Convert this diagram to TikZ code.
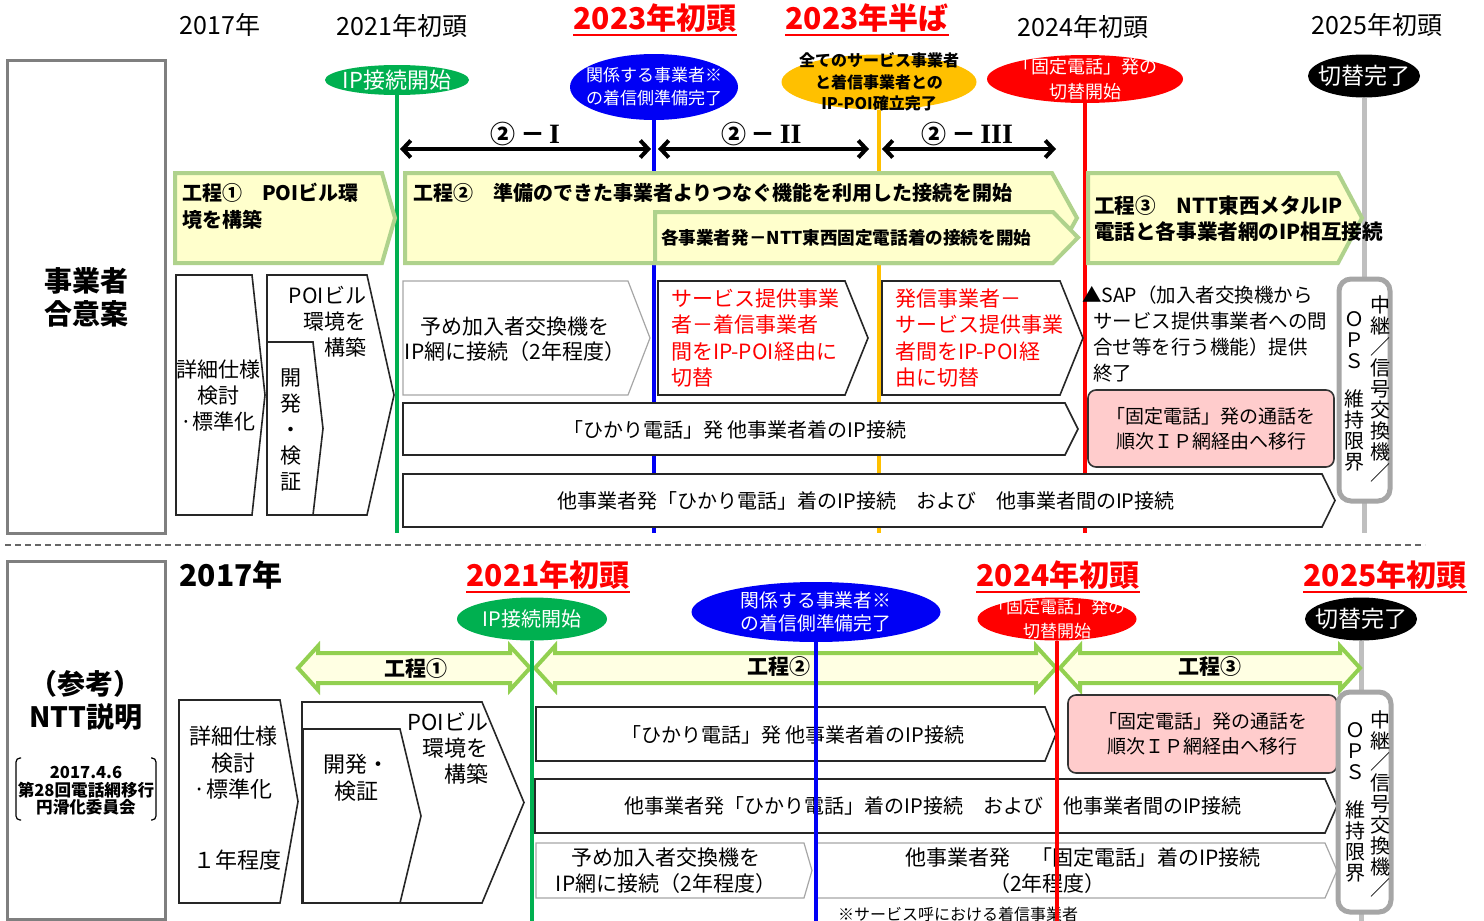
\documentclass[tikz,border=0pt]{standalone}
\usepackage{fontspec}
\setmainfont{Noto Sans CJK JP}
\newfontfamily\romanfont{Liberation Serif}
\usetikzlibrary{positioning}
\usetikzlibrary{arrows.meta}
\usetikzlibrary{shapes.geometric}

\definecolor{msgreen}{HTML}{00B050}
\definecolor{msblue}{HTML}{0000F5}
\definecolor{msgold}{HTML}{FFC000}
\definecolor{msred}{HTML}{FF0000}
\definecolor{msgray}{HTML}{BFBFBF}
\definecolor{stagefill}{HTML}{FFFFCC}
\definecolor{stageline}{HTML}{AFD28C}
\definecolor{arrowline}{HTML}{92D050}
\definecolor{arrowfill}{HTML}{FFFFE3}
\definecolor{pinkfill}{HTML}{FFCCCC}
\definecolor{framegray}{HTML}{7F7F7F}
\definecolor{opsgray}{HTML}{A6A6A6}

\newcommand{\fs}[2]{\fontsize{#1}{#2}\selectfont}
\newcommand{\chevron}[6][lane]{\draw[#1] (#2,#3) -- (#4,#3) -- (#5,{(#3+#6)/2}) -- (#4,#6) -- (#2,#6) -- cycle;}
\newcommand{\dblarrow}[3]{\draw[bigarrow] (#1,#3) -- ({#1+20},{#3-22}) -- ({#1+20},{#3-15}) -- ({#2-20},{#3-15}) -- ({#2-20},{#3-22}) -- (#2,#3) -- ({#2-20},{#3+22}) -- ({#2-20},{#3+15}) -- ({#1+20},{#3+15}) -- ({#1+20},{#3+22}) -- cycle;}
\newcommand{\rnum}[1]{{\romanfont\bfseries\fontsize{14}{14}\selectfont #1}}

\tikzset{
    x=0.5pt, y=-0.5pt,
    every node/.append style={inner sep=0pt, outer sep=0pt},
    year/.style={font=\fs{12.5}{15}},
    yearred/.style={font=\fs{15}{18}\bfseries, text=msred},
    yearbold/.style={font=\fs{15}{18}\bfseries},
    redline/.style={msred, line width=1pt},
    milestone/.style={ellipse, fill=#1, draw=none},
    mstext/.style={text=white, align=center},
    timeline/.style={line width=2pt, draw=#1},
    span/.style={{Straight Barb[length=4pt,width=8.5pt]}-{Straight Barb[length=4pt,width=8.5pt]}, line width=2pt},
    spanlabel/.style={font=\fs{12.5}{14}\bfseries},
    stage/.style={fill=stagefill, draw=stageline, line width=2pt},
    stagetext/.style={font=\fs{10}{13.5}\bfseries, align=left, anchor=west},
    phase/.style={font=\fs{10.5}{12}\bfseries},
    lane/.style={fill=white, draw=black!85, line width=0.8pt},
    lightlane/.style={fill=white, draw=opsgray, line width=0.6pt},
    lanetext/.style={font=\fs{10.5}{13}, align=center},
    redtext/.style={font=\fs{10.5}{13.2}, align=left, anchor=west, text=msred},
    pinkbox/.style={fill=pinkfill, draw=black!80, line width=0.8pt, rounded corners=4pt, font=\fs{9.5}{12.5}, align=center},
    opsbox/.style={fill=white, draw=opsgray, line width=2.5pt, rounded corners=6pt},
    vtext/.style={font=\fs{10}{10.5}, align=center},
    frame/.style={draw=framegray, line width=1.5pt},
    bigarrow/.style={fill=arrowfill, draw=arrowline, line width=2pt},
    sep/.style={draw=black!60, line width=0.6pt, dash pattern=on 3pt off 2pt},
    bracket/.style={draw=black, line width=0.6pt, rounded corners=2pt}
}

\begin{document}
\begin{tikzpicture}
\useasboundingbox (0,0) rectangle (1484,921);

% upper chart
\draw[frame] (7,60) rectangle (165,533);
\node[font=\fs{14}{16.5}\bfseries, align=center] (party) at (86,297) {事業者\\合意案};

\node[year] (yr17) at (220,25) {2017年};
\node[year] (yr21) at (402,26) {2021年初頭};
\node[yearred] (yr23a) at (655,18) {2023年初頭};
\node[yearred] (yr23b) at (867,18) {2023年半ば};
\node[year] (yr24) at (1083,27) {2024年初頭};
\node[year] (yr25) at (1377,25) {2025年初頭};
\draw[redline] ([yshift=-1.5pt]yr23a.south west) -- ([yshift=-1.5pt]yr23a.south east);
\draw[redline] ([yshift=-1.5pt]yr23b.south west) -- ([yshift=-1.5pt]yr23b.south east);

\node[milestone=msgreen, minimum width=72pt, minimum height=15pt, label={[mstext, font=\fs{11}{13}]center:IP接続開始}] (ms21) at (397,80) {};
\node[milestone=msblue, minimum width=84pt, minimum height=33pt, label={[mstext, font=\fs{8.5}{11.5}]center:{関係する事業者※\\の着信側準備完了}}] (ms23a) at (654,87) {};
\node[milestone=msgold, minimum width=97.5pt, minimum height=27.5pt, label={[font=\fs{8}{10.75}\bfseries, align=center]center:{全てのサービス事業者\\と着信事業者との\\IP-POI確立完了}}] (ms23b) at (879,82) {};
\node[milestone=msred, minimum width=98pt, minimum height=24pt, label={[mstext, font=\fs{9}{12.5}]center:{「固定電話」発の\\切替開始}}] (ms24) at (1085,79) {};
\node[milestone=black, minimum width=56pt, minimum height=21.5pt, label={[mstext, font=\fs{11.5}{13}]center:切替完了}] (ms25) at (1364,76) {};

\coordinate (topend) at (0,533);
\draw[timeline=msgreen] (ms21.south) -- (ms21 |- topend);
\draw[timeline=msblue] (ms23a.south) -- (ms23a |- topend);
\draw[timeline=msgold] (ms23b.south) -- (ms23b |- topend);
\draw[timeline=msred] (ms24.south) -- (ms24 |- topend);
\draw[timeline=msgray, line width=2.5pt] (ms25.south) -- (ms25 |- topend);

\coordinate (spanrow) at (0,149);
\coordinate (spanIIend) at (869,149);
\coordinate (spanIIIend) at (1056,149);
\draw[span, shorten <=1.5pt, shorten >=1.5pt] (ms21 |- spanrow) -- (ms23a |- spanrow) node[spanlabel, midway, above=1.5pt] (lblI) {②\,－\,\rnum{I}};
\draw[span, shorten <=2pt] (ms23a |- spanrow) -- (spanIIend) node[spanlabel, midway, above=1.5pt] (lblII) {②\,－\,\rnum{II}};
\draw[span, shorten <=1.5pt] (ms23b |- spanrow) -- (spanIIIend) node[spanlabel, midway, above=1.5pt] (lblIII) {②\,－\,\rnum{III}};

\chevron[stage]{175}{173}{382}{395}{263}
\node[stagetext] (st1) at (182,206) {工程①　POIビル環\\境を構築};
\chevron[stage]{405}{173}{1052}{1077}{263}
\node[stagetext] (st2) at (413,193) {工程②　準備のできた事業者よりつなぐ機能を利用した接続を開始};
\chevron[stage]{655}{212}{1053}{1078}{263}
\node[stagetext, font=\fs{8.8}{11}\bfseries] (st2b) at (661,238) {各事業者発－NTT東西固定電話着の接続を開始};
\chevron[stage]{1088}{173}{1338}{1362}{263}
\node[stagetext, font=\fs{10.3}{13}\bfseries] (st3) at (1094,219) {工程③　NTT東西メタルIP\\電話と各事業者網のIP相互接続};

\chevron{176}{275}{252}{265}{515}
\node[lanetext] (spec) at (218,396) {詳細仕様\\検討\\·標準化};
\chevron{267}{275}{367}{394}{515}
\node[lanetext, align=right, anchor=east] (poi) at (366,322) {POIビル\\環境を\\構築};
\chevron{267}{342}{313}{323}{515}
\node[lanetext] (dev) at (291,430) {開\\発\\・\\検\\証};

\chevron[lightlane]{403}{281}{628}{650}{395}
\node[lanetext, font=\fs{10.5}{12.5}] (pre) at (515,339) {予め加入者交換機を\\IP網に接続（2年程度）};
\chevron{658}{281}{845}{868}{395}
\node[redtext] (swA) at (671,338) {サービス提供事業\\者－着信事業者\\間をIP-POI経由に\\切替};
\chevron{882}{281}{1060}{1083}{395}
\node[redtext] (swB) at (895,338) {発信事業者－\\サービス提供事業\\者間をIP-POI経\\由に切替};
\node[font=\fs{9.75}{13}, align=left, anchor=west] (sap) at (1093,334) {\hspace*{-5.5pt}▲SAP（加入者交換機から\\サービス提供事業者への問\\合せ等を行う機能）提供\\終了};
\node[pinkbox, minimum width=123pt, minimum height=38.5pt] (migA) at (1211,428.5) {「固定電話」発の通話を\\順次ＩＰ網経由へ移行};

\chevron{403}{403}{1065}{1078}{455}
\node[lanetext, font=\fs{10}{12}] (hikA) at (735,430) {「ひかり電話」発 他事業者着のIP接続};
\chevron{403}{474}{1322}{1335}{527}
\node[lanetext, font=\fs{10}{12}] (othA) at (866,501) {他事業者発「ひかり電話」着のIP接続　および　他事業者間のIP接続};

\node[opsbox, minimum width=25.5pt, minimum height=111pt] (opsA) at (1364.5,390) {};
\node[vtext] (opsAr) at (1380,389) {中\\継\\／\\信\\号\\交\\換\\機\\／};
\node[vtext] (opsAl) at (1354,391) {Ｏ\\Ｐ\\Ｓ\\[8.5pt]維\\持\\限\\界};

\draw[sep] (5,545) -- (1425,545);

% lower chart
\draw[frame] (7,561) rectangle (165,919);
\node[font=\fs{14}{16.5}\bfseries, align=center] (refnote) at (86,700) {（参考）\\NTT説明};
\node[font=\fs{8.3}{8.75}\bfseries, align=center] (mtg) at (86,791) {2017.4.6\\第28回電話網移行\\円滑化委員会};
\draw[bracket] (21,758) -- (16,758) -- (16,820) -- (21,820);
\draw[bracket] (151,758) -- (156,758) -- (156,820) -- (151,820);

\node[yearbold] (yb17) at (231,575) {2017年};
\node[yearred] (yb21) at (548,575) {2021年初頭};
\node[yearred] (yb24) at (1058,575) {2024年初頭};
\node[yearred] (yb25) at (1385,575) {2025年初頭};
\draw[redline] ([yshift=-1.5pt]yb21.south west) -- ([yshift=-1.5pt]yb21.south east);
\draw[redline] ([yshift=-1.5pt]yb24.south west) -- ([yshift=-1.5pt]yb24.south east);
\draw[redline] ([yshift=-1.5pt]yb25.south west) -- ([yshift=-1.5pt]yb25.south east);

\node[milestone=msgreen, minimum width=75pt, minimum height=21.5pt, label={[mstext, font=\fs{10}{12}]center:IP接続開始}] (mb21) at (532,619) {};
\node[milestone=msblue, minimum width=124.5pt, minimum height=30pt, label={[mstext, font=\fs{9.4}{11.5}]center:{関係する事業者※\\の着信側準備完了}}] (mb23) at (816,612) {};
\node[milestone=msred, minimum width=79.5pt, minimum height=21.5pt, label={[mstext, font=\fs{8.5}{12}]center:{「固定電話」発の\\切替開始}}] (mb24) at (1057,619) {};
\node[milestone=black, minimum width=56pt, minimum height=21.5pt, label={[mstext, font=\fs{11.5}{13}]center:切替完了}] (mb25) at (1361,619) {};

\coordinate (botend) at (0,921);
\draw[timeline=msgray, line width=2.5pt] (mb25.south) -- (mb25 |- botend);

\dblarrow{298}{530}{668}
\node[phase] (ph1) at (416,669) {工程①};
\dblarrow{535}{1056}{668}
\node[phase] (ph2) at (779,667) {工程②};
\dblarrow{1060}{1360}{668}
\node[phase] (ph3) at (1210,667) {工程③};

\chevron{179}{700}{280}{298}{903}
\node[lanetext, font=\fs{11}{13.25}] (specB) at (233,763) {詳細仕様\\検討\\·標準化};
\node[lanetext, font=\fs{11}{13}] (specyr) at (237,860) {１年程度};
\chevron{302}{702}{482}{524}{903}
\node[lanetext, font=\fs{11}{13}, align=right, anchor=east] (poiB) at (488,748) {POIビル\\環境を\\構築};
\chevron{303}{729}{400}{421}{903}
\node[lanetext, font=\fs{11}{13.5}] (devB) at (356,778) {開発・\\検証};

\chevron{536}{707}{1045}{1056}{761}
\node[lanetext, font=\fs{10}{12}] (hikB) at (793,735) {「ひかり電話」発 他事業者着のIP接続};
\node[pinkbox, minimum width=134.5pt, minimum height=39pt] (migB) at (1202.5,734) {「固定電話」発の通話を\\順次ＩＰ網経由へ移行};
\chevron{535}{779}{1325}{1337}{833}
\node[lanetext, font=\fs{10}{12}] (othB) at (933,806) {他事業者発「ひかり電話」着のIP接続　および　他事業者間のIP接続};
\chevron[lightlane]{536}{843}{804}{812}{898}
\node[lanetext, font=\fs{10.5}{13}] (preB) at (666,871) {予め加入者交換機を\\IP網に接続（2年程度）};
\chevron[lightlane]{815}{843}{1325}{1337}{898}
\node[lanetext, font=\fs{10.5}{13}, align=left, anchor=west] (fixB) at (905,871) {他事業者発　「固定電話」着のIP接続\\\hspace*{42pt}（2年程度）};
\node[font=\fs{8}{10}, anchor=west] (note) at (838,914) {※サービス呼における着信事業者};

\draw[timeline=msgreen] (mb21.south) -- (mb21 |- botend);
\draw[timeline=msblue] (mb23.south) -- (mb23 |- botend);
\draw[timeline=msred] (mb24.south) -- (mb24 |- botend);

\node[opsbox, minimum width=26.5pt, minimum height=110pt] (opsB) at (1364.5,802) {};
\node[vtext] (opsBr) at (1380,803.5) {中\\継\\／\\信\\号\\交\\換\\機\\／};
\node[vtext] (opsBl) at (1355,802.5) {Ｏ\\Ｐ\\Ｓ\\[8.5pt]維\\持\\限\\界};
\end{tikzpicture}
\end{document}
